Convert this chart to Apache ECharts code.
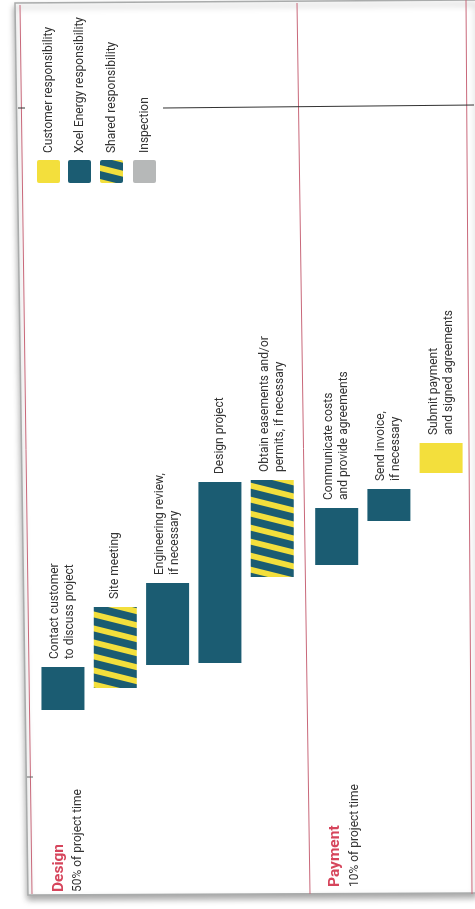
<!DOCTYPE html>
<html>
<head>
<meta charset="utf-8">
<script src="https://cdn.jsdelivr.net/npm/echarts@6/dist/echarts.min.js"></script>
<style>
html,body{margin:0;padding:0;background:#fff;}
#chart{width:475px;height:909px;}
</style>
</head>
<body>
<div id="chart"></div>
<script>
// ---- Data ----
const designTasks = ['Contact customer\nto discuss project', 'Site meeting', 'Engineering review,\nif necessary', 'Design project', 'Obtain easements and/or\npermits, if necessary'];
const designStart = [18.0, 20.2, 22.5, 22.7, 31.3];
const designEnd = [22.3, 28.3, 30.7, 40.8, 41.0];
const designOwner = ['xcel', 'shared', 'xcel', 'xcel', 'shared'];

const paymentTasks = ['Communicate costs\nand provide agreements', 'Send invoice,\nif necessary', 'Submit payment\nand signed agreements'];
const paymentStart = [32.5, 36.9, 41.7];
const paymentEnd = [38.2, 40.1, 44.7];
const paymentOwner = ['xcel', 'xcel', 'customer'];

const legendLabels = ['Customer responsibility', 'Xcel Energy responsibility', 'Shared responsibility', 'Inspection'];
const legendKeys = ['customer', 'xcel', 'shared', 'inspection'];

const phaseNames = ['Design', 'Payment'];
const phaseShares = ['50% of project time', '10% of project time'];

// ---- Styles ----
const TEAL = '#1b5c72';
const YELLOW = '#f3df3c';
const GRAY = '#b6b8b8';
const RED = '#d6455c';
const LINE_RED = '#c9687a';
const TEXT = '#333333';
const FONT = "Roboto, 'Liberation Sans', sans-serif";

function stripeCanvas() {
  const W = 56, P = 14, Y = 6;
  const c = document.createElement('canvas');
  c.width = W; c.height = P;
  const g = c.getContext('2d');
  g.fillStyle = TEAL; g.fillRect(0, 0, W, P);
  g.fillStyle = YELLOW;
  [-P, 0, P].forEach(function (o) {
    g.beginPath();
    g.moveTo(0, o); g.lineTo(W, o + P); g.lineTo(W, o + P + Y); g.lineTo(0, o + Y);
    g.closePath(); g.fill();
  });
  return c;
}
const STRIPES = { image: stripeCanvas(), repeat: 'repeat' };
const colorOf = { customer: YELLOW, xcel: TEAL, shared: STRIPES, inspection: GRAY };

function durData(names, s, e, owners) {
  return names.map(function (n, i) {
    return { value: +(e[i] - s[i]).toFixed(2), itemStyle: { color: colorOf[owners[i]] } };
  });
}

const labelStyle = {
  show: true, position: 'top', rotate: 90, align: 'left', verticalAlign: 'middle',
  distance: 8, formatter: '{b}', fontFamily: FONT, fontSize: 12, lineHeight: 15, color: TEXT
};

const chart = echarts.init(document.getElementById('chart'), null, { renderer: 'canvas' });

// decorations
const graphics = [];
graphics.push({ type: 'polygon', z: -10, shape: { points: [[15, 3], [476, 0], [476, 893], [28, 895]] },
  style: { fill: '#fff', stroke: '#a9abab', lineWidth: 1.5, shadowBlur: 6, shadowColor: 'rgba(0,0,0,0.35)', shadowOffsetY: 4 } });
[[[20, 5], [32, 894]], [[297, 3], [310, 894]], [[466, 0], [472, 894]]].forEach(function (p) {
  graphics.push({ type: 'line', shape: { x1: p[0][0], y1: p[0][1], x2: p[1][0], y2: p[1][1] }, style: { stroke: LINE_RED, lineWidth: 1 } });
});
graphics.push({ type: 'line', shape: { x1: 163, y1: 108, x2: 474, y2: 105 }, style: { stroke: '#333', lineWidth: 1.2 } });
graphics.push({ type: 'line', shape: { x1: 18, y1: 108, x2: 25, y2: 108 }, style: { stroke: '#333', lineWidth: 1 } });
graphics.push({ type: 'line', shape: { x1: 27, y1: 777, x2: 33, y2: 777 }, style: { stroke: '#666', lineWidth: 1 } });

// legend
const legX = [37, 68, 100, 133];
legendKeys.forEach(function (k, i) {
  graphics.push({ type: 'rect', shape: { x: legX[i], y: 160, width: 23, height: 23, r: 2 }, style: { fill: colorOf[k] } });
  graphics.push({ type: 'text', x: legX[i] + 12, y: 153, rotation: Math.PI / 2,
    style: { text: legendLabels[i], fontFamily: FONT, fontSize: 12, fill: TEXT, align: 'left', verticalAlign: 'middle' } });
});

// phase headers
const phaseX = [59.5, 335.5];
const shareX = [78, 355];
const phaseY = [892, 887];
phaseNames.forEach(function (n, i) {
  graphics.push({ type: 'text', x: phaseX[i], y: phaseY[i], rotation: Math.PI / 2,
    style: { text: n, fontFamily: FONT, fontSize: 15.5, fontWeight: 'bold', fill: RED, align: 'left', verticalAlign: 'middle' } });
  graphics.push({ type: 'text', x: shareX[i], y: phaseY[i], rotation: Math.PI / 2,
    style: { text: phaseShares[i], fontFamily: FONT, fontSize: 12, fill: TEXT, align: 'left', verticalAlign: 'middle' } });
});

const yAx = { type: 'value', min: 0, max: 88, show: false };
const xBase = { type: 'category', axisLine: { show: false }, axisTick: { show: false }, axisLabel: { show: false }, splitLine: { show: false } };

chart.setOption({
  animation: false,
  backgroundColor: '#fff',
  grid: [
    { left: 36.8, width: 261.6, top: 10, bottom: 19 },
    { left: 310.6, width: 156.6, top: 10, bottom: 19 }
  ],
  xAxis: [
    Object.assign({ gridIndex: 0, data: designTasks }, xBase),
    Object.assign({ gridIndex: 1, data: paymentTasks }, xBase)
  ],
  yAxis: [Object.assign({ gridIndex: 0 }, yAx), Object.assign({ gridIndex: 1 }, yAx)],
  series: [
    { type: 'bar', xAxisIndex: 0, yAxisIndex: 0, stack: 'd', barWidth: 43, silent: true,
      itemStyle: { color: 'transparent' }, data: designStart },
    { type: 'bar', xAxisIndex: 0, yAxisIndex: 0, stack: 'd', barWidth: 43, name: 'Design',
      data: durData(designTasks, designStart, designEnd, designOwner), label: labelStyle },
    { type: 'bar', xAxisIndex: 1, yAxisIndex: 1, stack: 'p', barWidth: 43, silent: true,
      itemStyle: { color: 'transparent' }, data: paymentStart },
    { type: 'bar', xAxisIndex: 1, yAxisIndex: 1, stack: 'p', barWidth: 43, name: 'Payment',
      data: durData(paymentTasks, paymentStart, paymentEnd, paymentOwner), label: labelStyle }
  ],
  graphic: graphics
});
</script>
</body>
</html>
